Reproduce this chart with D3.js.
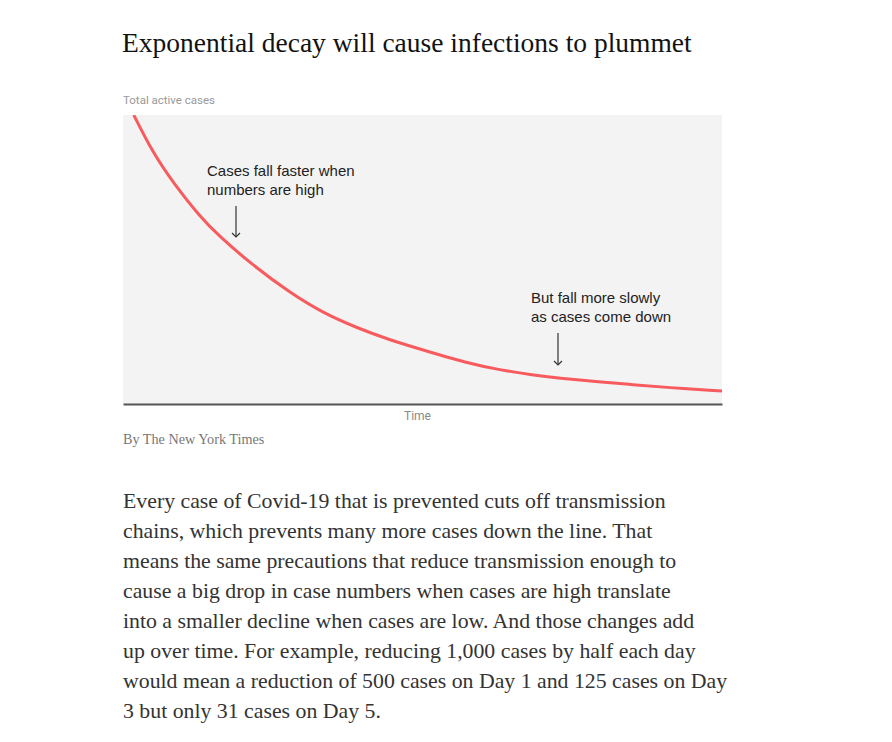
<!DOCTYPE html>
<html><head><meta charset="utf-8">
<script src="https://cdn.jsdelivr.net/npm/d3@7"></script>
<style>
html,body{margin:0;padding:0;background:#fff;}
svg{display:block;}
</style></head>
<body>
<svg id="chart" width="892" height="742"></svg>
<script>
// Data (time units, relative active cases)
const timeValues = [1.8, 5.0, 8.4, 12.9, 16.2, 21.2, 27.9, 33.4, 39.1, 44.6, 50.1, 57.4, 62.9, 68.5, 72.6, 79.6, 85.1, 90.8, 100];
const caseValues = [100, 86.9, 76.5, 64.7, 57.8, 48.8, 38.4, 31.5, 26.3, 22.1, 18.7, 14.2, 11.8, 10.0, 9.0, 7.6, 6.7, 5.7, 4.5];
const title = "Exponential decay will cause infections to plummet";
const yLabel = "Total active cases";
const xLabel = "Time";
const credit = "By The New York Times";
const annotations = [
  {lines: ["Cases fall faster when", "numbers are high"]},
  {lines: ["But fall more slowly", "as cases come down"]}
];
const paragraph = [
  "Every case of Covid-19 that is prevented cuts off transmission",
  "chains, which prevents many more cases down the line. That",
  "means the same precautions that reduce transmission enough to",
  "cause a big drop in case numbers when cases are high translate",
  "into a smaller decline when cases are low. And those changes add",
  "up over time. For example, reducing 1,000 cases by half each day",
  "would mean a reduction of 500 cases on Day 1 and 125 cases on Day",
  "3 but only 31 cases on Day 5."
];

const svg = d3.select("#chart");
const m = {left: 123, right: 722, top: 115, bottom: 404};
const x = d3.scaleLinear().domain([0, 100]).range([m.left, m.right]);
const y = d3.scaleLinear().domain([0, 100]).range([m.bottom, m.top]);

svg.append("text").attr("x", 122).attr("y", 52)
  .attr("font-family", "Liberation Serif, serif").attr("font-size", 27.5)
  .attr("fill", "#121212").text(title);

svg.append("text").attr("x", 123).attr("y", 104)
  .attr("font-family", "Roboto, sans-serif").attr("font-size", 11.5)
  .attr("fill", "#999").text(yLabel);

svg.append("rect").attr("x", m.left).attr("y", m.top)
  .attr("width", m.right - m.left).attr("height", m.bottom - m.top)
  .attr("fill", "#f3f3f3");

svg.append("defs").append("clipPath").attr("id", "clip")
  .append("rect").attr("x", m.left).attr("y", m.top)
  .attr("width", m.right - m.left).attr("height", m.bottom - m.top);

const data = timeValues.map((t, i) => ({t, v: caseValues[i]}));
const line = d3.line().x(d => x(d.t)).y(d => y(d.v)).curve(d3.curveBasis);
svg.append("path").datum(data).attr("d", line)
  .attr("clip-path", "url(#clip)")
  .attr("fill", "none").attr("stroke", "#f75b5e").attr("stroke-width", 3);

// x axis baseline
const xAxis = d3.axisBottom(x).ticks(0).tickSize(0).tickFormat("");
const ax = svg.append("g").attr("transform", `translate(0,${m.bottom})`).call(xAxis);
ax.select(".domain").attr("stroke", "#555").attr("stroke-width", 2);

svg.append("text").attr("x", (m.left + m.right) / 2 - 5).attr("y", 420)
  .attr("text-anchor", "middle")
  .attr("font-family", "Roboto, sans-serif").attr("font-size", 12)
  .attr("fill", "#888").text(xLabel);

// annotations
const annPos = [{tx: 207, ty: 176, ay1: 206, ay2: 237, ax: 236}, {tx: 531, ty: 303, ay1: 333, ay2: 365, ax: 558}];
annotations.forEach((a, i) => {
  const p = annPos[i];
  const t = svg.append("text").attr("font-family", "Liberation Sans, Arial, sans-serif")
    .attr("font-size", 15).attr("fill", "#222");
  a.lines.forEach((l, j) => t.append("tspan").attr("x", p.tx).attr("y", p.ty + j * 19).text(l));
  svg.append("line").attr("x1", p.ax).attr("x2", p.ax).attr("y1", p.ay1).attr("y2", p.ay2)
    .attr("stroke", "#333").attr("stroke-width", 1.2);
  svg.append("path").attr("d", `M${p.ax - 4},${p.ay2 - 4} L${p.ax},${p.ay2} L${p.ax + 4},${p.ay2 - 4}`)
    .attr("fill", "none").attr("stroke", "#333").attr("stroke-width", 1.2);
});

svg.append("text").attr("x", 123).attr("y", 444)
  .attr("font-family", "Liberation Serif, serif").attr("font-size", 14.2)
  .attr("fill", "#777").text(credit);

const para = svg.append("text").attr("font-family", "Liberation Serif, serif")
  .attr("font-size", 21.8).attr("fill", "#333");
paragraph.forEach((l, i) => para.append("tspan").attr("x", 123).attr("y", 508 + i * 30).text(l));
</script>
</body></html>
